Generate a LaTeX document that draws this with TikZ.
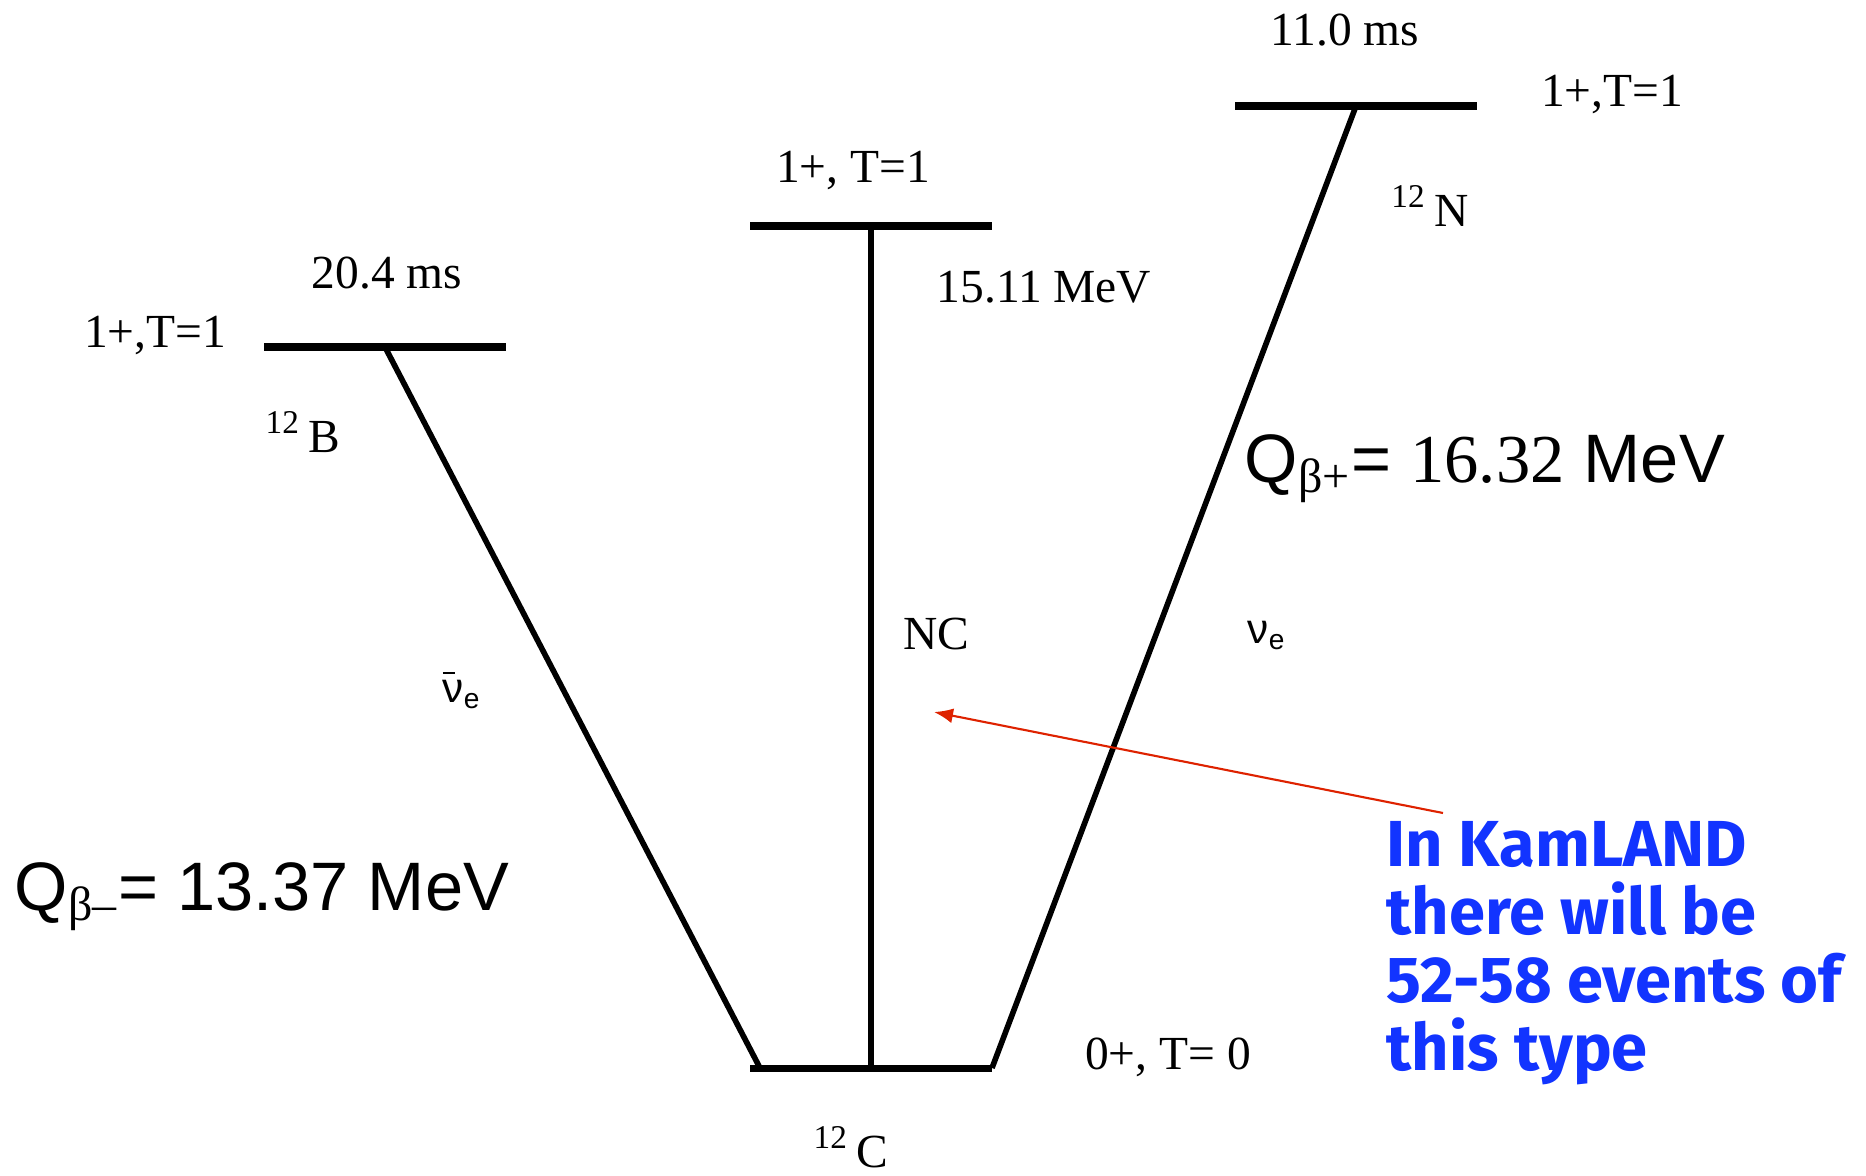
\documentclass[tikz,border=0pt]{standalone}
\usepackage{fontspec}
\setmainfont{Liberation Serif}
\newfontfamily\arialfont{Liberation Sans}
\newfontfamily\timesfont{Liberation Serif}
\newfontfamily\notefont{Fira Sans}
\usetikzlibrary{arrows.meta,calc}
\definecolor{noteblue}{RGB}{18,52,255}
\definecolor{pointred}{RGB}{222,34,0}
\newcommand{\isotope}[1]{\textsuperscript{12}\,#1}
\newcommand{\nuflavour}[1]{{\arialfont\fontsize{12}{14}\selectfont#1ν\textsubscript{e}}}
\newcommand{\nubar}{\rlap{\raisebox{1.25ex}{\rule{0.3em}{0.5pt}}}}

\begin{document}
\begin{tikzpicture}[x=0.01cm,y=-0.01cm,
  level/.style={line width=2pt},
  trans/.style={line width=1.6pt},
  lbl/.style={font=\fontsize{13.5}{16}\selectfont,inner sep=0pt,anchor=base},
  qval/.style={font=\arialfont\fontsize{19.5}{22}\selectfont,inner sep=0pt,anchor=base west},
  note/.style={font=\notefont\bfseries\fontsize{18.5}{19.3}\selectfont,text=noteblue,align=left,inner sep=0pt,anchor=north west},
  pointer/.style={pointred,line width=0.6pt,-{Latex[length=1.9mm,width=1.5mm]}}]
\useasboundingbox (0,0) rectangle (1866,1175);
\foreach \n/\x/\y in {B/264/347,M/750/226,N/1235/106,C/750/1068}
  \draw[level] (\x,\y) coordinate (\n w) -- coordinate (\n m) ++(242,0) coordinate (\n e);
\draw[trans] (Bm) -- ($(Cw)+(10,0)$);
\draw[trans] (Mm) -- (Cm);
\draw[trans] (Nm) -- (Ce);
\node[lbl] (Blife) at (387,288) {20.4 ms};
\node[lbl] (Bspin) at (155,347) {1+,T=1};
\node[lbl] (Bname) at (303,452) {\isotope{B}};
\node[lbl] (Mspin) at (853,182) {1+, T=1};
\node[lbl] (Menergy) at (1044,302) {15.11 MeV};
\node[lbl] (Nlife) at (1345,45) {11.0 ms};
\node[lbl] (Nspin) at (1612,106) {1+,T=1};
\node[lbl] (Nname) at (1430,226) {\isotope{N}};
\node[lbl] (Cspin) at (1168,1069) {0+, T= 0};
\node[lbl] (Cname) at (851,1167) {\isotope{C}};
\node[lbl] (nc) at (936,649) {NC};
\node[lbl] (antinu) at (462,702) {\nuflavour{\nubar}};
\node[lbl] (nu) at (1267,643) {\nuflavour{}};
\node[qval] (qplus) at (1244,482) {Q\textsubscript{\timesfont β+}= {\timesfont 16.32} MeV};
\node[qval] (qminus) at (14,910) {Q\textsubscript{\timesfont β–}= 13.37 MeV};
\node[note] (note) at (1386,821) {In KamLAND\\there will be\\52-58 events of\\this type};
\coordinate (ncpoint) at (934,712);
\draw[pointer] ($(note.north west)+(57,-8)$) -- (ncpoint);
\end{tikzpicture}
\end{document}
